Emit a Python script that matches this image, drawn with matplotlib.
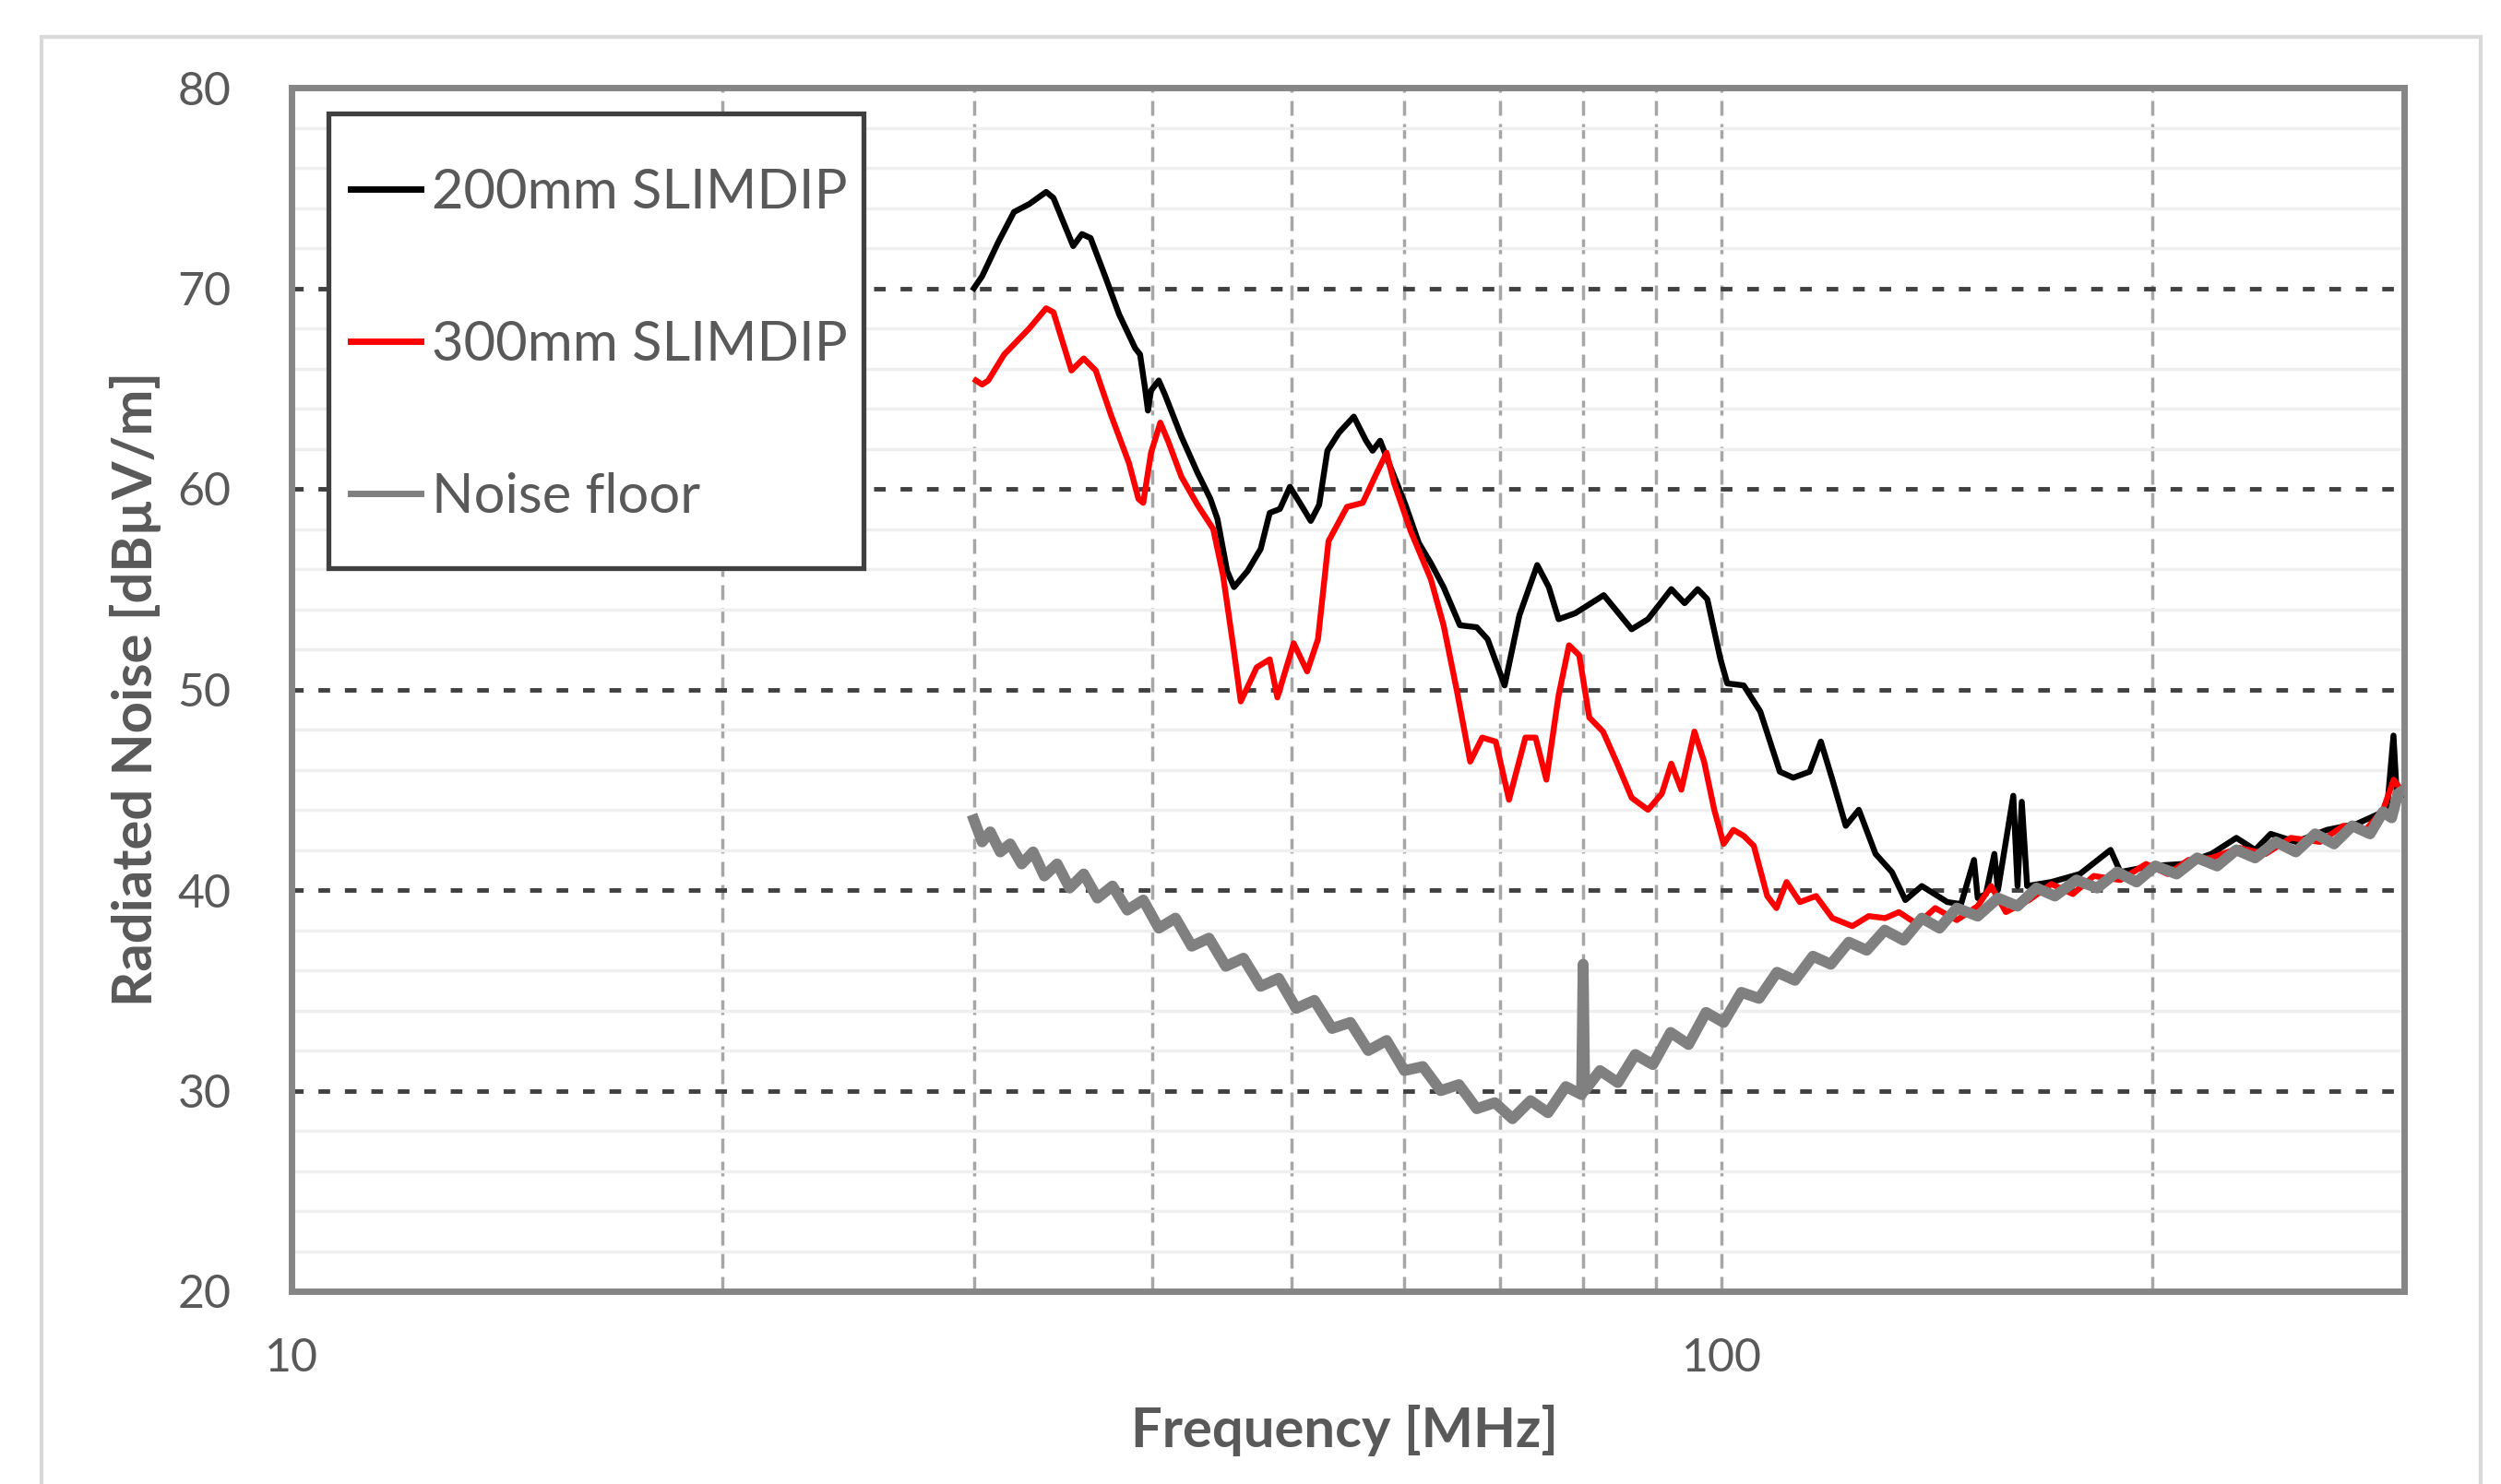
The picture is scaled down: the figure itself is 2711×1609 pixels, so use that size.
import matplotlib.pyplot as plt
from matplotlib.patches import Rectangle
from matplotlib.ticker import NullFormatter

plt.rcParams['font.family'] = ['Lato', 'DejaVu Sans']

# 200mm SLIMDIP (black)
black_freq = [30.0, 30.4, 31.2, 32.0, 32.8, 33.7, 34.1, 35.2, 35.7, 36.2, 37.1, 37.9, 38.9,
              39.2, 39.5, 39.7, 39.9, 40.4, 40.8, 41.9, 43.0, 43.9, 44.4, 45.1, 45.6, 46.6,
              47.6, 48.3, 49.1, 49.9, 50.7, 51.6, 52.3, 53.0, 54.0, 55.3, 56.4, 57.0, 57.7,
              58.5, 60.1, 61.4, 62.6, 63.9, 65.6, 67.4, 68.6, 70.5, 72.2, 74.3, 75.7, 76.9,
              79.0, 82.7, 86.5, 88.8, 92.2, 94.2, 96.2, 97.7, 99.8, 100.9, 103.6, 106.4,
              109.8, 112.2, 115.2, 117.3, 119.5, 122.1, 124.7, 128.1, 131.5, 134.4, 138.0,
              143.8, 147, 150.1, 151, 153, 155.1, 156, 159.9, 161, 162.1, 163.5, 170, 178,
              187, 190, 200, 210, 220, 229, 236, 242, 252, 265, 278, 288, 292, 294.9, 296.5, 300]
black_db = [70.0, 70.6, 72.3, 73.8, 74.2, 74.8, 74.5, 72.1, 72.7, 72.5, 70.5, 68.7, 67.0,
            66.7, 65.1, 63.9, 64.9, 65.4, 64.7, 62.6, 60.8, 59.5, 58.5, 55.9, 55.1, 55.9,
            57.0, 58.8, 59.0, 60.1, 59.3, 58.4, 59.2, 61.9, 62.8, 63.6, 62.4, 61.9, 62.4,
            61.3, 59.2, 57.3, 56.3, 55.1, 53.2, 53.1, 52.5, 50.2, 53.7, 56.2, 55.1, 53.5,
            53.8, 54.7, 53.0, 53.5, 55.0, 54.3, 55.0, 54.5, 51.5, 50.3, 50.2, 48.9,
            45.9, 45.6, 45.9, 47.4, 45.5, 43.2, 44.0, 41.8, 40.9, 39.5, 40.2,
            39.4, 39.3, 41.5, 39.6, 39.8, 41.8, 40.0, 44.7, 40.2, 44.4, 40.2, 40.4, 40.8,
            42.0, 40.9, 41.2, 41.3, 41.8, 42.6, 42.0, 42.8, 42.4, 43.0, 43.3, 43.8, 44.2, 47.7, 44.7, 45.0]

# 300mm SLIMDIP (red)
red_freq = [30.1, 30.4, 30.7, 31.5, 32.8, 33.7, 34.1, 35.1, 35.8, 36.5, 37.4, 38.5, 39.1,
            39.4, 39.9, 40.5, 41.0, 41.9, 43.0, 44.1, 44.8, 45.6, 46.1, 47.3, 48.3, 48.9,
            50.2, 51.3, 52.2, 53.1, 54.7, 56.1, 57.3, 58.3, 59.0, 60.6, 62.6, 63.9, 65.3,
            66.7, 68.0, 69.5, 71.0, 72.9, 74.1, 75.4, 76.9, 78.2, 79.5, 80.8, 82.6, 84.4,
            86.5, 88.8, 90.8, 92.2, 93.7, 95.7, 97.2, 98.8, 100.3, 101.9, 103.6, 105.3,
            107.6, 109.2, 111.0, 113.4, 116.4, 119.5, 123.4, 126.7, 130.1, 133, 137, 141,
            146, 151, 154.3, 158, 164, 170, 176, 182, 190, 198, 205, 212, 220, 230, 240,
            250, 262, 272, 282, 290, 295, 300]
red_db = [65.4, 65.2, 65.4, 66.7, 68.0, 69.0, 68.8, 65.9, 66.5, 65.9, 63.7, 61.3, 59.5,
          59.3, 61.8, 63.3, 62.4, 60.6, 59.2, 58.0, 55.7, 51.9, 49.4, 51.1, 51.5, 49.6,
          52.3, 50.9, 52.5, 57.4, 59.1, 59.3, 60.7, 61.8, 60.3, 57.9, 55.5, 53.2, 49.9,
          46.4, 47.6, 47.4, 44.5, 47.6, 47.6, 45.5, 49.7, 52.2, 51.7, 48.6, 47.9, 46.4,
          44.6, 44.0, 44.8, 46.3, 45.0, 47.9, 46.4, 44.0, 42.3, 43.0, 42.7, 42.2,
          39.7, 39.1, 40.4, 39.4, 39.7, 38.6, 38.2, 38.7, 38.6, 38.9, 38.3, 39.1,
          38.5, 39.2, 40.2, 38.9, 39.5, 40.3, 39.8, 40.7, 40.5, 41.3, 40.8, 41.5, 41.6, 42.1, 41.8,
          42.6, 42.4, 43.2, 43.0, 44.0, 45.5, 44.8]

# Noise floor (gray)
nf_freq = [30, 30.4, 30.8, 31.3, 31.8, 32.4, 33.0, 33.6, 34.3, 35.0, 35.8, 36.6, 37.5, 38.4,
           39.4, 40.4, 41.5, 42.6, 43.8, 45.0, 46.3, 47.6, 49.0, 50.4, 51.9, 53.4, 55.0,
           56.6, 58.3, 60.0, 61.8, 63.6, 65.5, 67.4, 69.4, 71.4, 73.5, 75.6, 77.8, 79.8,
           80.0, 80.2, 82.2, 84.6, 87.0, 89.5, 92.1, 94.8, 97.5, 100.3, 103.2, 106.2,
           109.3, 112.5, 115.8, 119.2, 122.7, 126.3, 130, 134, 138, 142, 146, 151, 156,
           161, 166, 171, 177, 183, 189, 195, 201, 208, 215, 222, 229, 236, 244, 252,
           260, 268, 276, 284, 290, 294, 297, 300]
nf_db = [43.5, 42.4, 42.9, 41.9, 42.3, 41.3, 41.9, 40.7, 41.3, 40.1, 40.8, 39.6, 40.2, 39.0,
         39.5, 38.1, 38.6, 37.2, 37.6, 36.2, 36.6, 35.2, 35.6, 34.1, 34.5, 33.1, 33.4,
         32.0, 32.5, 31.0, 31.2, 30.0, 30.3, 29.1, 29.4, 28.6, 29.5, 28.9, 30.2, 29.8,
         36.3, 30.0, 31.0, 30.4, 31.8, 31.3, 32.9, 32.3, 33.9, 33.4, 34.9, 34.6,
         35.9, 35.5, 36.7, 36.3, 37.4, 37.0, 38.0, 37.5, 38.6, 38.1, 39.1, 38.7, 39.6,
         39.2, 40.1, 39.7, 40.5, 40.1, 40.9, 40.4, 41.2, 40.8, 41.6, 41.2, 42.0, 41.6, 42.4, 41.9,
         42.8, 42.3, 43.2, 42.8, 43.9, 43.6, 44.8, 45.0]

x_major = [10, 100]
x_minor = [20, 30, 40, 50, 60, 70, 80, 90, 200]
y_ticks = [20, 30, 40, 50, 60, 70, 80]
y_minor = list(range(20, 81, 2))

W, H = 2711, 1609
fig = plt.figure(figsize=(W / 100, H / 100), dpi=100)
ax = fig.add_axes([316 / W, 1 - 1400 / H, 2290 / W, 1305 / H])

# light gray chart-area border
fig.patches.append(Rectangle((45 / W, -0.01), (2689 - 45) / W, 1 - 40 / H + 0.01,
                             transform=fig.transFigure, fill=False,
                             edgecolor='#d9d9d9', lw=3))

ax.plot(black_freq, black_db, color='black', lw=4.6, label='200mm SLIMDIP', zorder=3)
ax.plot(red_freq, red_db, color='#ff0000', lw=4.6, label='300mm SLIMDIP', zorder=3.1)
ax.plot(nf_freq, nf_db, color='#808080', lw=8.5, label='Noise floor', zorder=3.2)

ax.set_xscale('log')
ax.set_xlim(10, 300)
ax.set_ylim(20, 80)
ax.set_xticks(x_major)
ax.set_xticklabels([str(v) for v in x_major])
ax.set_xticks(x_minor, minor=True)
ax.xaxis.set_minor_formatter(NullFormatter())
ax.set_yticks(y_ticks)
ax.set_yticks(y_minor, minor=True)

ax.set_axisbelow(True)
ax.yaxis.grid(True, which='minor', color='#efefef', lw=2.5, ls='-')
ax.yaxis.grid(True, which='major', color='#404040', lw=3.5, ls=(0, (2.6, 3.3)))
ax.xaxis.grid(True, which='both', color='#a6a6a6', lw=2.5, ls=(0, (4.6, 2.6)))

ax.tick_params(which='both', length=0)
ax.tick_params(axis='y', pad=47, labelsize=36, labelcolor='#595959')
ax.tick_params(axis='x', pad=36, labelsize=36, labelcolor='#595959')

for s in ax.spines.values():
    s.set_color('#868686')
    s.set_linewidth(5)

# legend box
ax.add_patch(Rectangle((356 / W, 1 - 616 / H), 580 / W, 493 / H, transform=fig.transFigure,
                       facecolor='white', edgecolor='#404040', lw=3.8, zorder=4))
leg = ax.legend(loc='upper left', bbox_to_anchor=(380 / W, 1 - 182 / H),
                bbox_transform=fig.transFigure, frameon=False, borderpad=0,
                borderaxespad=0, handlelength=1.28, handletextpad=0.2,
                labelspacing=1.86, fontsize=43, labelcolor='#595959')
leg.set_zorder(5)
for ln in leg.get_lines():
    ln.set_linewidth(5)

fig.text(147 / W, 1 - 747 / H, 'Radiated Noise [dBµV/m]', rotation=90, ha='center',
         va='center', fontsize=43, fontweight='bold', color='#595959')
fig.text(1458 / W, 1 - 1551 / H, 'Frequency [MHz]', ha='center', va='center',
         fontsize=43, fontweight='bold', color='#595959')

fig.savefig('out.png', dpi=100)
